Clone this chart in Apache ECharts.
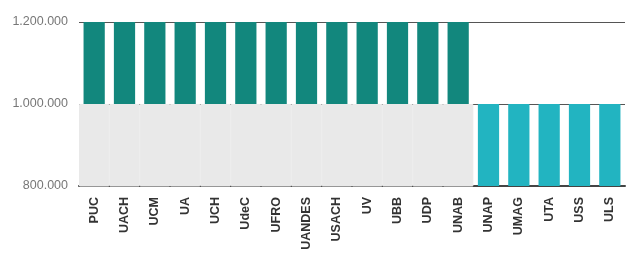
<!DOCTYPE html>
<html>
<head>
<meta charset="utf-8">
<script src="https://cdn.jsdelivr.net/npm/echarts@6/dist/echarts.min.js"></script>
<style>
html, body { margin: 0; padding: 0; background: #fff; }
#chart { width: 631px; height: 256px; }
</style>
</head>
<body>
<div id="chart"></div>
<script>
// universidades
var categories = ['PUC', 'UACH', 'UCM', 'UA', 'UCH', 'UdeC', 'UFRO', 'UANDES', 'USACH', 'UV', 'UBB', 'UDP', 'UNAB', 'UNAP', 'UMAG', 'UTA', 'USS', 'ULS'];
// inicio y fin de cada barra flotante
var rangeLow = [1000000, 1000000, 1000000, 1000000, 1000000, 1000000, 1000000, 1000000, 1000000, 1000000, 1000000, 1000000, 1000000, 800000, 800000, 800000, 800000, 800000];
var rangeHigh = [1200000, 1200000, 1200000, 1200000, 1200000, 1200000, 1200000, 1200000, 1200000, 1200000, 1200000, 1200000, 1200000, 1000000, 1000000, 1000000, 1000000, 1000000];
// zona gris bajo el primer grupo
var shadeHigh = [1000000, 1000000, 1000000, 1000000, 1000000, 1000000, 1000000, 1000000, 1000000, 1000000, 1000000, 1000000, 1000000, null, null, null, null, null];
var yTicks = [800000, 1000000, 1200000];

var appChart = {
    chart: null,
    init: function init() {
        var that = this;
        that.chart = echarts.init(document.getElementById('chart'));
        that.chart.setOption(that.getOption());
    },
    fmt: function fmt(v) {
        return String(v).replace(/\B(?=(\d{3})+(?!\d))/g, '.');
    },
    getOption: function getOption() {
        var that = this;
        var base = [], diff = [];
        for (var i = 0; i < categories.length; i++) {
            base.push(rangeLow[i]);
            diff.push({
                value: rangeHigh[i] - rangeLow[i],
                itemStyle: { color: i < 13 ? '#12877d' : '#22b4c1' }
            });
        }
        return {
            animation: false,
            backgroundColor: '#fff',
            grid: { left: 79, right: 6, top: 22, bottom: 70 },
            xAxis: [{
                type: 'category',
                data: categories,
                axisLine: { show: true, lineStyle: { color: '#444', width: 2 } },
                axisTick: { show: false },
                axisLabel: {
                    rotate: 90, interval: 0, margin: 11,
                    color: '#333', fontSize: 12.5, fontWeight: 'bold',
                    fontFamily: 'Liberation Sans'
                }
            }, {
                type: 'category',
                data: categories,
                show: false
            }],
            yAxis: {
                type: 'value',
                min: yTicks[0],
                max: yTicks[yTicks.length - 1],
                interval: 200000,
                axisLine: { show: false },
                axisTick: { show: false },
                splitLine: { lineStyle: { color: '#555', width: 1 } },
                axisLabel: {
                    color: '#777', fontSize: 12.5, margin: 11,
                    fontFamily: 'Liberation Sans',
                    formatter: function (v) { return that.fmt(v); }
                }
            },
            series: [{
                type: 'bar',
                xAxisIndex: 1,
                data: shadeHigh,
                barWidth: '100%',
                itemStyle: { color: '#e9e9e9', borderColor: '#e9e9e9', borderWidth: 1 },
                silent: true,
                z: 1
            }, {
                type: 'bar',
                stack: 'r',
                data: base,
                barCategoryGap: '30%',
                itemStyle: { color: 'rgba(0,0,0,0)' },
                z: 2
            }, {
                type: 'bar',
                stack: 'r',
                data: diff,
                z: 3
            }]
        };
    }
};
window.onload = function () {
    appChart.init();
};
</script>
</body>
</html>
